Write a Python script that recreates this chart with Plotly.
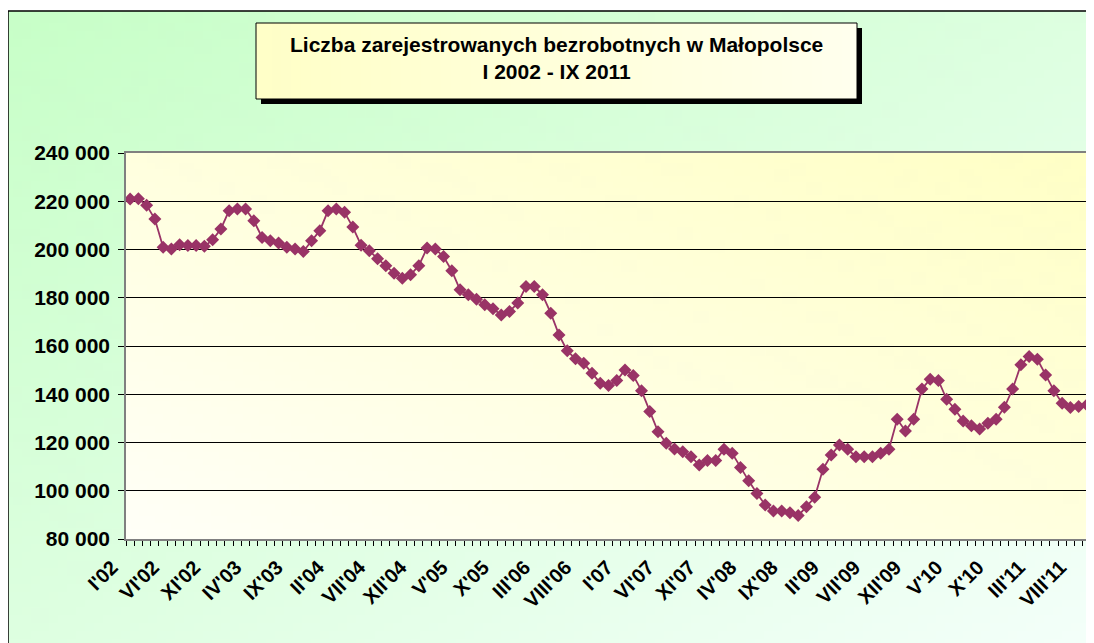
import base64
import struct
import zlib

import numpy as np
import plotly.graph_objects as go

# ---------------- data ----------------
romans = ["I", "II", "III", "IV", "V", "VI", "VII", "VIII", "IX", "X", "XI", "XII"]
years = ["02", "03", "04", "05", "06", "07", "08", "09", "10", "11"]

v2002 = [220900, 221000, 218300, 212600, 200900, 200200, 202000, 201700, 201700, 201300, 204000, 208500]
v2003 = [216100, 216800, 216800, 211900, 205000, 203600, 202700, 200900, 200200, 199200, 203600, 207800]
v2004 = [216100, 216800, 215400, 209300, 201800, 199500, 196200, 193300, 190200, 188100, 189500, 193300]
v2005 = [200600, 200200, 197100, 191200, 183300, 181200, 179400, 177100, 175400, 172900, 174300, 177800]
v2006 = [184700, 184700, 181200, 173600, 164600, 158000, 154700, 152900, 148700, 144600, 143600, 145700]
v2007 = [150100, 147800, 141500, 132800, 124500, 119700, 117300, 116200, 114100, 110700, 112500, 112500]
v2008 = [117200, 115500, 109600, 104100, 98900, 94100, 91600, 91600, 90900, 89700, 93400, 97300]
v2009 = [108900, 114800, 119000, 117200, 114100, 114100, 114100, 115500, 117200, 129600, 124800, 129600]
v2010 = [142200, 146200, 145700, 137900, 133800, 128900, 126900, 125600, 128000, 129600, 134600, 142200]
v2011 = [152200, 155600, 154500, 148000, 141500, 136300, 134500, 134900, 135600]

values = v2002 + v2003 + v2004 + v2005 + v2006 + v2007 + v2008 + v2009 + v2010 + v2011
month_labels = [f"{r}'{y}" for y in years for r in romans][: len(values)]
idx = list(range(len(values)))
tick_idx = idx[::5]
tick_text = [month_labels[i] for i in tick_idx]

title_text = "Liczba zarejestrowanych bezrobotnych w Małopolsce<br>I 2002 - IX 2011"

# ---------------- helpers ----------------
# the page body has an 8px margin, so the figure starts at page pixel (8, 8)
OFF = 8
W, H = 1094 - OFF, 643 - OFF


def png_uri(arr):
    h, w, _ = arr.shape
    raw = b"".join(b"\x00" + arr[i].tobytes() for i in range(h))

    def chunk(tag, data):
        c = struct.pack(">I", len(data)) + tag + data
        return c + struct.pack(">I", zlib.crc32(tag + data) & 0xFFFFFFFF)

    png = b"\x89PNG\r\n\x1a\n"
    png += chunk(b"IHDR", struct.pack(">IIBBBBB", w, h, 8, 2, 0, 0, 0))
    png += chunk(b"IDAT", zlib.compress(raw, 9))
    png += chunk(b"IEND", b"")
    return "data:image/png;base64," + base64.b64encode(png).decode()


def diag_gradient(w, h, c0, c1, from_right=False, horizontal=False):
    xs = np.linspace(0, 1, w)[None, :]
    ys = np.linspace(0, 1, h)[:, None]
    if horizontal:
        t = xs + 0 * ys
    elif from_right:
        t = ((1 - xs) + ys) / 2
    else:
        t = (xs + ys) / 2
    c0 = np.array(c0, float)
    c1 = np.array(c1, float)
    img = c0[None, None, :] * (1 - t[..., None]) + c1[None, None, :] * t[..., None]
    return np.clip(img, 0, 255).astype(np.uint8)


paper_img = png_uri(diag_gradient(120, 80, (200, 255, 200), (244, 255, 250)))
plot_img = png_uri(diag_gradient(120, 60, (255, 255, 198), (255, 255, 248), from_right=True))
title_img = png_uri(diag_gradient(60, 10, (255, 255, 200), (255, 255, 238), horizontal=True))


def pxx(x):  # page pixel x -> paper fraction
    return (x - OFF) / W


def pxy(y):  # page pixel y -> paper fraction
    return 1 - (y - OFF) / H


# plot area in page pixels
px0, px1 = 126, 1091
py0, py1 = 153, 539
dom_x = [pxx(px0), pxx(px1)]
dom_y = [pxy(py1), pxy(py0)]

FONT = "Liberation Sans, Arial, sans-serif"
COLOR = "#993366"

fig = go.Figure()
fig.add_trace(
    go.Scatter(
        x=idx,
        y=values,
        mode="lines+markers",
        line=dict(color=COLOR, width=1.8),
        marker=dict(symbol="diamond", size=10, color=COLOR),
        hovertext=month_labels,
        showlegend=False,
    )
)

fig.update_layout(
    width=W,
    height=H,
    margin=dict(l=0, r=0, t=0, b=0),
    paper_bgcolor="white",
    plot_bgcolor="rgba(0,0,0,0)",
    separators=", ",
    showlegend=False,
    font=dict(family=FONT, color="black"),
    xaxis=dict(
        domain=dom_x,
        range=[-0.5, len(values) - 0.5],
        tickmode="array",
        tickvals=tick_idx,
        ticktext=tick_text,
        tickangle=-45,
        ticks="",
        showgrid=False,
        zeroline=False,
        showline=True,
        linecolor="#808080",
        linewidth=1.5,
        mirror=True,
        tickfont=dict(family=FONT, size=20, color="black", weight="bold"),
        ticklabelstandoff=7,
        ticklabelshift=-18,
        minor=dict(ticks="outside", tick0=-0.5, dtick=1, ticklen=5, tickcolor="black", tickwidth=1, showgrid=False),
        automargin=False,
    ),
    yaxis=dict(
        domain=dom_y,
        range=[80000, 240000],
        dtick=20000,
        tickformat=",d",
        ticks="outside",
        ticklen=6,
        tickcolor="black",
        showgrid=True,
        gridcolor="black",
        gridwidth=1,
        zeroline=False,
        showline=True,
        linecolor="#808080",
        linewidth=1.5,
        mirror=True,
        tickfont=dict(family=FONT, size=21, color="black", weight="bold"),
        ticklabelstandoff=4,
        automargin=False,
    ),
    images=[
        dict(
            source=paper_img, xref="paper", yref="paper",
            x=pxx(8), y=pxy(11), sizex=1 - pxx(8), sizey=pxy(11),
            xanchor="left", yanchor="top", sizing="stretch", layer="below",
        ),
        dict(
            source=plot_img, xref="paper", yref="paper",
            x=dom_x[0], y=dom_y[1], sizex=dom_x[1] - dom_x[0], sizey=dom_y[1] - dom_y[0],
            xanchor="left", yanchor="top", sizing="stretch", layer="below",
        ),
        dict(
            source=title_img, xref="paper", yref="paper",
            x=pxx(256), y=pxy(23), sizex=pxx(857) - pxx(256), sizey=pxy(23) - pxy(99),
            xanchor="left", yanchor="top", sizing="stretch", layer="above",
        ),
    ],
    shapes=[
        # outer chart border
        dict(type="rect", xref="paper", yref="paper", x0=pxx(8), x1=pxx(1100), y0=pxy(650), y1=pxy(11),
             line=dict(color="black", width=1.5), fillcolor="rgba(0,0,0,0)", layer="above"),
        # title shadow
        dict(type="rect", xref="paper", yref="paper", x0=pxx(261), x1=pxx(862), y0=pxy(104), y1=pxy(28),
             line=dict(width=0), fillcolor="black", layer="below"),
        # title box border
        dict(type="rect", xref="paper", yref="paper", x0=pxx(256), x1=pxx(857), y0=pxy(99), y1=pxy(23),
             line=dict(color="black", width=1), fillcolor="rgba(0,0,0,0)", layer="above"),
    ],
    annotations=[
        dict(
            text=title_text, xref="paper", yref="paper", x=pxx(556.5), y=pxy(58),
            xanchor="center", yanchor="middle", showarrow=False,
            font=dict(family=FONT, size=21, color="black", weight="bold"),
        )
    ],
)

fig.write_html("out.html")
